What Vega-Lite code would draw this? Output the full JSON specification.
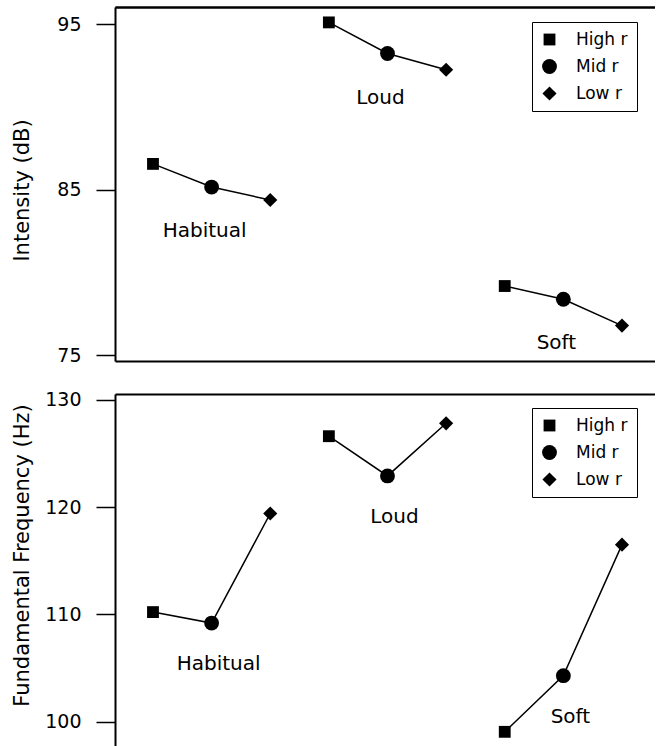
{
  "$schema": "https://vega.github.io/schema/vega-lite/v6.json",
  "background": "white",
  "padding": {"left": 10, "top": 7, "right": 0, "bottom": 0},
  "spacing": 24,
  "config": {
    "view": {"stroke": null},
    "font": "DejaVu Sans",
    "axis": {
      "grid": false,
      "domainColor": "black",
      "domainWidth": 2,
      "tickColor": "black",
      "tickWidth": 1.5,
      "labelColor": "black",
      "titleColor": "black",
      "labelFont": "DejaVu Sans",
      "titleFont": "DejaVu Sans",
      "titleFontWeight": "normal"
    },
    "legend": {
      "strokeColor": "black",
      "strokeWidth": 1,
      "fillColor": "white",
      "padding": 9,
      "labelFont": "DejaVu Sans",
      "labelFontSize": 17,
      "labelColor": "black",
      "rowPadding": 9,
      "labelOffset": 18,
      "symbolFillColor": "black",
      "symbolStrokeWidth": 0,
      "symbolOpacity": 1
    }
  },
  "datasets": {
    "intensity": [
      {"condition": "Habitual", "series": "High r", "slot": 1, "value": 86.55},
      {"condition": "Habitual", "series": "Mid r", "slot": 2, "value": 85.15},
      {"condition": "Habitual", "series": "Low r", "slot": 3, "value": 84.37},
      {"condition": "Loud", "series": "High r", "slot": 4, "value": 95.1},
      {"condition": "Loud", "series": "Mid r", "slot": 5, "value": 93.22},
      {"condition": "Loud", "series": "Low r", "slot": 6, "value": 92.24},
      {"condition": "Soft", "series": "High r", "slot": 7, "value": 79.17},
      {"condition": "Soft", "series": "Mid r", "slot": 8, "value": 78.37},
      {"condition": "Soft", "series": "Low r", "slot": 9, "value": 76.78}
    ],
    "f0": [
      {"condition": "Habitual", "series": "High r", "slot": 1, "value": 110.22},
      {"condition": "Habitual", "series": "Mid r", "slot": 2, "value": 109.2},
      {"condition": "Habitual", "series": "Low r", "slot": 3, "value": 119.4},
      {"condition": "Loud", "series": "High r", "slot": 4, "value": 126.6},
      {"condition": "Loud", "series": "Mid r", "slot": 5, "value": 122.9},
      {"condition": "Loud", "series": "Low r", "slot": 6, "value": 127.8},
      {"condition": "Soft", "series": "High r", "slot": 7, "value": 99.07},
      {"condition": "Soft", "series": "Mid r", "slot": 8, "value": 104.3},
      {"condition": "Soft", "series": "Low r", "slot": 9, "value": 116.5}
    ]
  },
  "resolve": {
    "scale": {"shape": "independent", "size": "independent", "x": "independent", "y": "independent"},
    "legend": {"shape": "independent", "size": "independent"}
  },
  "vconcat": [
    {
      "width": 540,
      "height": 354,
      "data": {"name": "intensity"},
      "encoding": {
        "x": {"field": "slot", "type": "quantitative", "scale": {"domain": [0.352, 9.563], "nice": false, "zero": false},
              "axis": {"orient": "top", "labels": false, "ticks": false, "title": null, "domain": true}},
        "y": {"field": "value", "type": "quantitative", "scale": {"domain": [74.64, 96.03], "nice": false, "zero": false},
              "axis": {"values": [75, 85, 95], "title": "Intensity (dB)", "tickSize": 19, "labelPadding": 15, "labelFontSize": 19, "titleFontSize": 21, "titleX": -83, "titleY": 183}}
      },
      "layer": [
        {
          "mark": {"type": "line", "color": "black", "strokeWidth": 1.5},
          "encoding": {
            "detail": {"field": "condition"},
            "order": {"field": "slot"}
          }
        },
        {
          "mark": {"type": "point", "filled": true, "color": "black", "opacity": 1},
          "encoding": {
            "shape": {"field": "series", "type": "nominal",
                      "scale": {"domain": ["High r", "Mid r", "Low r"], "range": ["square", "circle", "diamond"]},
                      "legend": {"orient": "none", "legendX": 417, "legendY": 15, "title": null}},
            "size": {"field": "series", "type": "nominal",
                     "scale": {"type": "ordinal", "domain": ["High r", "Mid r", "Low r"], "range": [140, 220, 200]},
                     "legend": {"orient": "none", "legendX": 417, "legendY": 15, "title": null}}
          }
        },
        {
          "transform": [{"filter": "datum.series === 'Mid r'"}],
          "mark": {"type": "text", "fontSize": 20, "dy": 44, "dx": -7, "color": "black", "font": "DejaVu Sans"},
          "encoding": {
            "x": {"field": "slot", "type": "quantitative",
                  "axis": {"orient": "bottom", "labels": false, "ticks": false, "title": null, "domain": true}},
            "text": {"field": "condition"}
          }
        }
      ]
    },
    {
      "width": 540,
      "height": 352,
      "data": {"name": "f0"},
      "encoding": {
        "x": {"field": "slot", "type": "quantitative", "scale": {"domain": [0.352, 9.563], "nice": false, "zero": false},
              "axis": {"orient": "top", "labels": false, "ticks": false, "title": null, "domain": true}},
        "y": {"field": "value", "type": "quantitative", "scale": {"domain": [97.75, 130.53], "nice": false, "zero": false},
              "axis": {"values": [100, 110, 120, 130], "title": "Fundamental Frequency (Hz)", "tickSize": 19, "labelPadding": 15, "labelFontSize": 19, "titleFontSize": 21, "titleX": -83, "titleY": 161}}
      },
      "layer": [
        {
          "mark": {"type": "line", "color": "black", "strokeWidth": 1.5},
          "encoding": {
            "detail": {"field": "condition"},
            "order": {"field": "slot"}
          }
        },
        {
          "mark": {"type": "point", "filled": true, "color": "black", "opacity": 1},
          "encoding": {
            "shape": {"field": "series", "type": "nominal",
                      "scale": {"domain": ["High r", "Mid r", "Low r"], "range": ["square", "circle", "diamond"]},
                      "legend": {"orient": "none", "legendX": 417, "legendY": 14, "title": null}},
            "size": {"field": "series", "type": "nominal",
                     "scale": {"type": "ordinal", "domain": ["High r", "Mid r", "Low r"], "range": [140, 220, 200]},
                     "legend": {"orient": "none", "legendX": 417, "legendY": 14, "title": null}}
          }
        },
        {
          "transform": [{"filter": "datum.series === 'Mid r'"}],
          "mark": {"type": "text", "fontSize": 20, "dy": 41, "dx": 7, "color": "black", "font": "DejaVu Sans"},
          "encoding": {
            "text": {"field": "condition"}
          }
        }
      ]
    }
  ]
}
